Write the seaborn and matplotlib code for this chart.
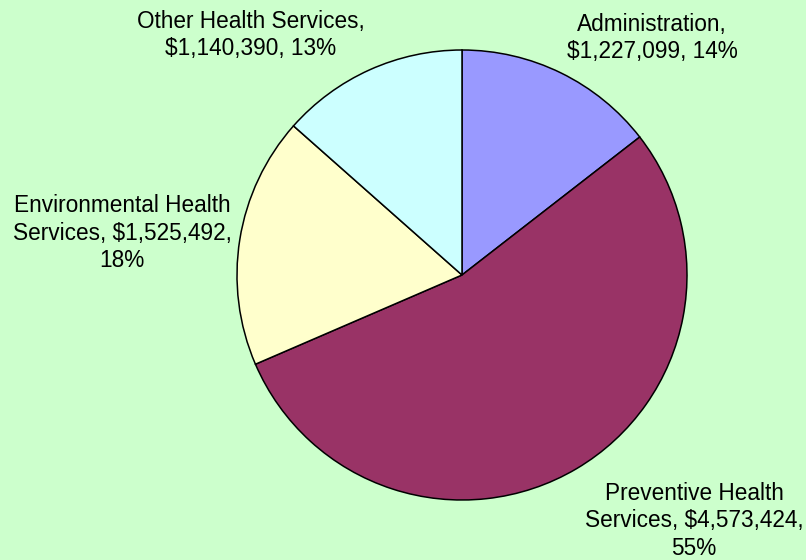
import matplotlib
matplotlib.use("Agg")
import matplotlib.pyplot as plt
import seaborn as sns

sns.set_theme(style="white")
plt.rcParams['font.family'] = ['Liberation Sans', 'DejaVu Sans']

categories = ["Administration", "Preventive Health Services",
              "Environmental Health Services", "Other Health Services"]
values = [1227099, 4573424, 1525492, 1140390]
labels = ["Administration,\n$1,227,099, 14%",
          "Preventive Health\nServices, $4,573,424,\n55%",
          "Environmental Health\nServices, $1,525,492,\n18%",
          "Other Health Services,\n$1,140,390, 13%"]
colors = ["#9999FF", "#993366", "#FFFFCC", "#CCFFFF"]

W, H = 806, 560
fig = plt.figure(figsize=(W / 100, H / 100), dpi=100)
fig.patch.set_facecolor("#CCFFCC")

cx, cy, r = 462, 275, 225
ax = fig.add_axes([(cx - r) / W, 1 - (cy + r) / H, 2 * r / W, 2 * r / H])
ax.set_facecolor("none")
ax.pie(values, colors=colors, startangle=90, counterclock=False,
       wedgeprops=dict(edgecolor="black", linewidth=1.1), radius=1)
ax.set_xlim(-1, 1)
ax.set_ylim(-1, 1)
ax.set_aspect("equal")
ax.axis("off")

label_pos = [(652, 38), (694, 521), (122, 233), (251, 35)]
for lab, (px, py) in zip(labels, label_pos):
    fig.text(px / W, 1 - py / H, lab, ha="center", va="center",
             multialignment="center", fontsize=16.3, color="black",
             linespacing=1.25)

fig.savefig("out.png", dpi=100, facecolor=fig.get_facecolor())
